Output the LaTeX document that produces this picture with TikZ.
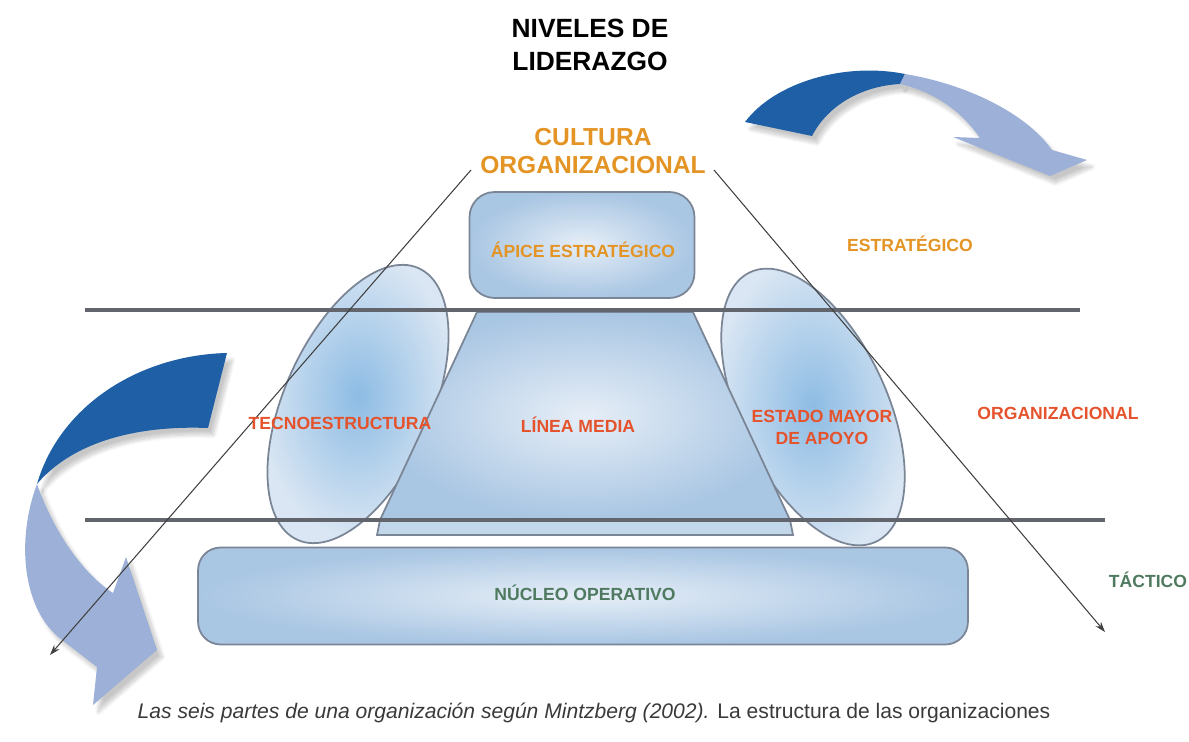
\documentclass[tikz,border=0pt]{standalone}
\usepackage{fontspec}
\setmainfont{Liberation Sans}
\usetikzlibrary{shapes.geometric,arrows.meta,shadows.blur}
\definecolor{ocre}{HTML}{E39424}
\definecolor{rojizo}{HTML}{E5532D}
\definecolor{verdoso}{HTML}{4F7A60}
\definecolor{azuloscuro}{HTML}{1F5FA6}
\definecolor{azulpalido}{HTML}{9DB0D8}
\definecolor{celeste}{HTML}{E6EEF7}
\definecolor{celestemedio}{HTML}{A9C6E3}
\definecolor{celestefuerte}{HTML}{8DBCE4}
\definecolor{borde}{HTML}{7A8596}
\definecolor{raya}{HTML}{62666C}
\definecolor{leyenda}{HTML}{3A3A3A}

\begin{document}
\begin{tikzpicture}[x=0.02cm,y=-0.02cm,
		caja/.style={draw=borde, line width=1pt, shade, inner color=celeste, outer color=celestemedio},
		elipse/.style={ellipse, draw=borde, line width=1pt, shade, inner color=celestefuerte, outer color=celeste!80!celestemedio, inner sep=0pt},
		nivel/.style={draw=raya, line width=2pt},
		flecha/.style={draw=black!75, line width=0.6pt, -{Stealth[length=6pt,width=4pt]}},
		sombra/.style={blur shadow={shadow xshift=3pt, shadow yshift=-4pt, shadow opacity=22, shadow blur steps=12}},
		etiq/.style={font=\fontsize{10}{12.5}\selectfont\bfseries, align=center, inner sep=0pt}]
		\useasboundingbox (0,0) rectangle (1189,742);
		
		\coordinate (TI) at (477,312);
		\coordinate (TD) at (693,312);
		\coordinate (BD) at (790,520);
		\coordinate (BI) at (380,520);
		\coordinate (IzqIni) at (471,170);
		\coordinate (IzqFin) at (50,655);
		\coordinate (DerIni) at (714,170);
		\coordinate (DerFin) at (1105,632);
		
		% flechas curvas
		\fill[azuloscuro, sombra] (745,122) .. controls (775,82) and (845,62) .. (905,74)
			-- (900,84) .. controls (862,86) and (828,105) .. (812,136) -- cycle;
		\fill[azulpalido, sombra] (905,74) .. controls (965,84) and (1025,112) .. (1052,150)
			-- (1087,160) -- (1050,176) -- (953,137) -- (980,138)
			.. controls (962,112) and (935,92) .. (900,84) -- cycle;
		\fill[azuloscuro, sombra] (227,353) .. controls (140,355) and (60,405) .. (37,484)
			.. controls (70,445) and (130,425) .. (208,428) -- cycle;
		\fill[azulpalido, sombra] (37,484) .. controls (16,540) and (22,610) .. (62,640)
			-- (97,667) -- (93,705) -- (157,650) -- (126,557) -- (113,593)
			.. controls (85,575) and (55,535) .. (37,484) -- cycle;
		
		\node[elipse, rotate=-24, minimum width=2.95cm, minimum height=5.95cm] (tecno) at (358,404) {};
		\node[elipse, rotate=25, minimum width=2.95cm, minimum height=5.95cm] (staff) at (813,407) {};
		\draw[caja] (TI) -- (TD) -- (BD) -- (BI) -- cycle;
		\draw[draw=borde, line width=1pt, fill=celestemedio!70!white] (BI) -- (BD) -- ++(3,15) -- (377,535) -- cycle;
		\node[caja, rounded corners=0.5cm, minimum width=4.5cm, minimum height=2.12cm] (apice) at (582,245) {};
		\node[caja, rounded corners=0.45cm, minimum width=15.4cm, minimum height=1.94cm] (nucleo) at (583,596) {};
		
		\draw[nivel] (85,310) -- (1080,310);
		\draw[nivel] (85,520) -- (1105,520);
		
		\draw[flecha] (IzqIni) -- (IzqFin);
		\draw[flecha] (DerIni) -- (DerFin);
		
		\node[font=\fontsize{15}{19}\selectfont\bfseries, align=center] (titulo) at (590,45) {NIVELES DE\\LIDERAZGO};
		\node[font=\fontsize{14}{15.5}\selectfont\bfseries, align=center, text=ocre, inner sep=0pt] (cultura) at (593,151) {CULTURA\\ORGANIZACIONAL};
		\node[etiq, text=ocre] (tapice) at (583,250) {ÁPICE ESTRATÉGICO};
		\node[etiq, text=rojizo] (ttecno) at (340,423) {TECNOESTRUCTURA};
		\node[etiq, text=rojizo] (tlinea) at (578,425) {LÍNEA MEDIA};
		\node[etiq, text=rojizo] (tstaff) at (822,427) {ESTADO MAYOR\\DE APOYO};
		\node[etiq, text=verdoso] (tnucleo) at (585,593) {NÚCLEO OPERATIVO};
		\node[etiq, text=ocre] (estrategico) at (910,244) {ESTRATÉGICO};
		\node[etiq, text=rojizo] (organizacional) at (1058,413) {ORGANIZACIONAL};
		\node[etiq, text=verdoso] (tactico) at (1148,580) {TÁCTICO};
		
		\node[font=\fontsize{12}{14}\selectfont, text=leyenda] (pie) at (594,713)
			{\textit{Las seis partes de una organización según Mintzberg (2002).} La estructura de las organizaciones};
	\end{tikzpicture}
\end{document}
